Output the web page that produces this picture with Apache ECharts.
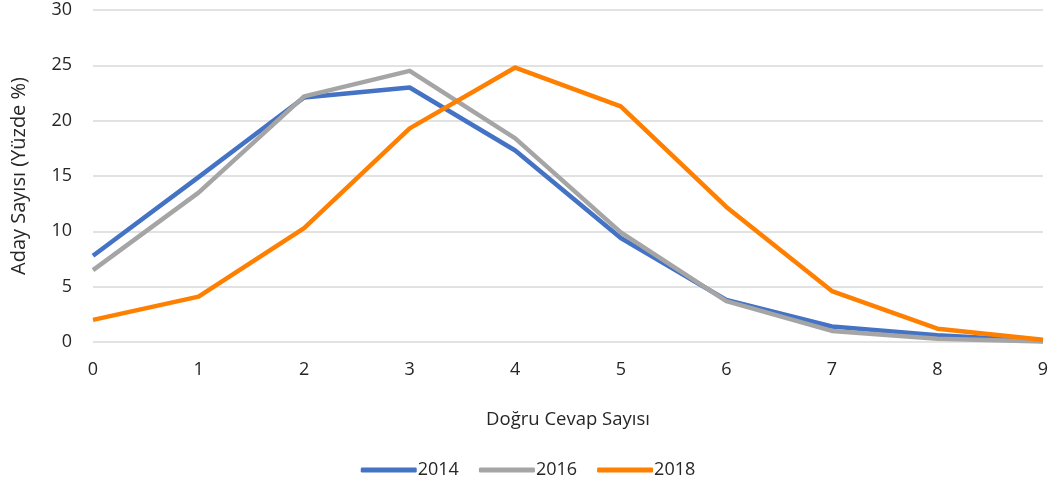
<!DOCTYPE html>
<html>
<head>
<meta charset="utf-8">
<script src="https://cdn.jsdelivr.net/npm/echarts@6/dist/echarts.min.js"></script>
<style>
  html, body { margin: 0; padding: 0; background: #fff; }
  #chart { width: 1056px; height: 490px; }
</style>
</head>
<body>
<div id="chart"></div>
<script>
// dogru cevap sayisi
const categories = ['0', '1', '2', '3', '4', '5', '6', '7', '8', '9'];
const yTicks = [0, 5, 10, 15, 20, 25, 30];

const s2014 = [7.8, 14.9, 22.1, 23.0, 17.3, 9.4, 3.8, 1.4, 0.6, 0.1];
const s2016 = [6.5, 13.5, 22.2, 24.5, 18.4, 9.9, 3.7, 1.0, 0.3, 0.05];
const s2018 = [2.0, 4.1, 10.3, 19.3, 24.8, 21.3, 12.2, 4.6, 1.2, 0.2];

const fontFam = '"Open Sans", "Noto Sans", sans-serif';
const txt = '#262626';

let chart = echarts.init(document.getElementById('chart'));

function mkLine(name, data, color) {
  return {
    name: name,
    type: 'line',
    data: data,
    symbol: 'none',
    lineStyle: { width: 4.5, color: color, join: 'round' },
    itemStyle: { color: color }
  };
}

let option = {
  animation: false,
  textStyle: { fontFamily: fontFam },
  grid: { left: 93, right: 13, top: 10, bottom: 148 },
  legend: {
    bottom: 6,
    left: 'center',
    itemWidth: 56,
    itemHeight: 5,
    itemGap: 20,
    icon: 'roundRect',
    textStyle: { fontSize: 18, color: txt, fontFamily: fontFam, padding: [0, 0, 0, -4] },
    data: ['2014', '2016', '2018']
  },
  xAxis: {
    type: 'category',
    data: categories,
    boundaryGap: false,
    name: 'Doğru Cevap Sayısı',
    nameLocation: 'middle',
    nameGap: 68,
    nameTextStyle: { fontSize: 18.5, color: txt },
    axisLine: { show: false },
    axisTick: { show: false },
    axisLabel: { fontSize: 18, color: txt, margin: 19 },
    splitLine: { show: false }
  },
  yAxis: {
    type: 'value',
    min: yTicks[0],
    max: yTicks[yTicks.length - 1],
    interval: 5,
    name: 'Aday Sayısı (Yüzde %)',
    nameLocation: 'middle',
    nameRotate: 90,
    nameGap: 64,
    nameTextStyle: { fontSize: 20, color: txt },
    axisLine: { show: false },
    axisTick: { show: false },
    axisLabel: { fontSize: 18, color: txt, margin: 21 },
    splitLine: { lineStyle: { color: '#d9d9d9', width: 1.5 } }
  },
  series: [
    mkLine('2014', s2014, '#4472c4'),
    mkLine('2016', s2016, '#a5a5a5'),
    mkLine('2018', s2018, '#ff8000')
  ]
};

chart.setOption(option);
</script>
</body>
</html>
